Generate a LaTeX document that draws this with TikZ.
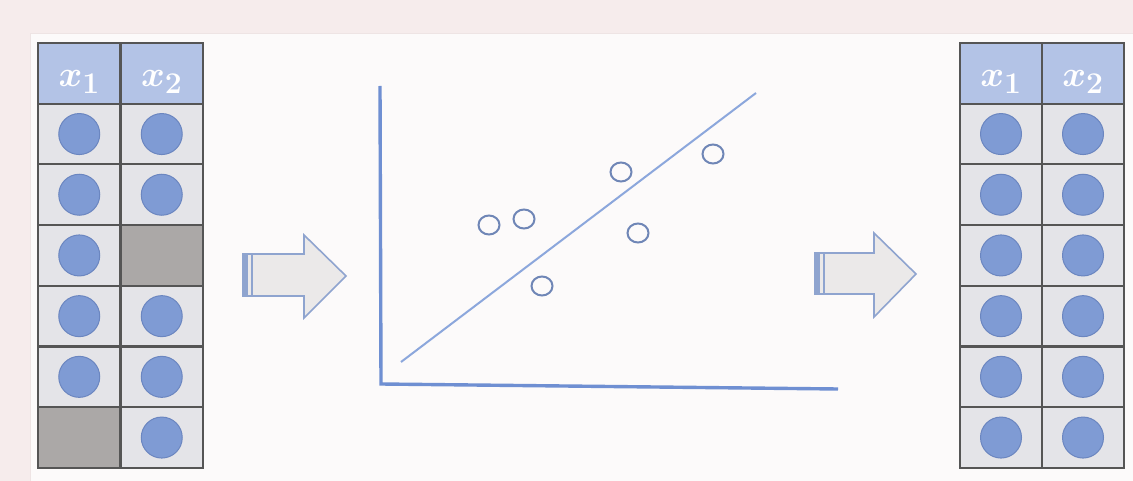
\documentclass[tikz,border=0pt]{standalone}
\usetikzlibrary{shapes.geometric}
\definecolor{bgpink}{HTML}{F6ECEC}
\definecolor{panel}{HTML}{FCFAFA}
\definecolor{panelline}{HTML}{EEE4E4}
\definecolor{hdr}{HTML}{B3C3E6}
\definecolor{cellc}{HTML}{E4E4E8}
\definecolor{miss}{HTML}{ABA8A7}
\definecolor{gridc}{HTML}{555555}
\definecolor{dotc}{HTML}{7F9BD4}
\definecolor{dotb}{HTML}{6B86C0}
\definecolor{axisc}{HTML}{6F8FD2}
\definecolor{fitc}{HTML}{8CA7DC}
\definecolor{ptc}{HTML}{6F86B6}
\definecolor{arrf}{HTML}{EBE9E9}
\definecolor{arrb}{HTML}{8FA4CF}
\newcommand{\hdrlabel}[1]{\scalebox{1.45}{\Huge\boldmath$x_{#1}$}}
\begin{document}
\begin{tikzpicture}[x=1pt,y=-1pt,
  cellbox/.style={draw=gridc,line width=2.2pt,fill=cellc,minimum width=82.5pt,minimum height=60.7pt,inner sep=0pt,outer sep=0pt},
  missbox/.style={cellbox,fill=miss},
  hdrbox/.style={cellbox,fill=hdr},
  hdrtxt/.style={text=white,anchor=base,inner sep=0pt},
  dot/.style={circle,fill=dotc,draw=dotb,line width=1pt,minimum size=41pt,inner sep=0pt},
  pt/.style={ellipse,draw=ptc,line width=2pt,minimum width=21pt,minimum height=19pt,inner sep=0pt},
  bigarrow/.style={fill=arrf,draw=arrb,line width=1.6pt,line join=miter},
  axisline/.style={draw=axisc,line width=3.4pt,line join=miter},
  fitline/.style={draw=fitc,line width=2pt}]
\useasboundingbox (0,0) rectangle (1133,481);
\fill[bgpink] (0,0) rectangle (1133,481);
\fill[panel] (30,34) rectangle (1133,481);
\draw[panelline,line width=1pt] (30,481) -- (30,34) -- (1133,34);
% left table
\foreach \c/\t in {0/1,1/2}
  \node[hdrbox] (LH\c) at ({38+82.5*\c+41.25},73.35) {};
\foreach \c/\t in {0/1,1/2}
  \node[hdrtxt] (LT\c) at ({38+82.5*\c+41.25},87) {\hdrlabel{\t}};
\foreach \r/\c in {1/0,1/1,2/0,2/1,3/0,4/0,4/1,5/0,5/1,6/1}{
  \node[cellbox] (L\r\c) at ({38+82.5*\c+41.25},{43+60.7*\r+30.35}) {};
  \node[dot] (LD\r\c) at (L\r\c) {};
}
\foreach \r/\c in {3/1,6/0}
  \node[missbox] (L\r\c) at ({38+82.5*\c+41.25},{43+60.7*\r+30.35}) {};
% right table
\foreach \c/\t in {0/1,1/2}
  \node[hdrbox,minimum width=82pt] (RH\c) at ({960+82*\c+41},73.35) {};
\foreach \c/\t in {0/1,1/2}
  \node[hdrtxt] (RT\c) at ({960+82*\c+41},87) {\hdrlabel{\t}};
\foreach \r in {1,...,6}\foreach \c in {0,1}{
  \node[cellbox,minimum width=82pt] (R\r\c) at ({960+82*\c+41},{43+60.7*\r+30.35}) {};
  \node[dot] (RD\r\c) at (R\r\c) {};
}
% arrows
\draw[bigarrow] (243,254) -- (304,254) -- (304,235) -- (346,276) -- (304,318) -- (304,296) -- (243,296) -- cycle;
\fill[arrb] (243,254) rectangle (248,296);
\draw[arrb,line width=2.4pt] (252,254) -- (252,296);
\draw[bigarrow] (815,253) -- (874,253) -- (874,233) -- (916,274) -- (874,317) -- (874,294) -- (815,294) -- cycle;
\fill[arrb] (815,253) rectangle (820,294);
\draw[arrb,line width=2.4pt] (824,253) -- (824,294);
% chart
\coordinate (ytop) at (380,86);
\coordinate (origin) at (381,384);
\coordinate (xend) at (838,389);
\draw[axisline] (ytop) -- (origin) -- (xend);
\coordinate (f1) at (401,362);
\coordinate (f2) at (756,93);
\draw[fitline] (f1) -- (f2);
\node[pt] (p1) at (489,225) {};
\node[pt] (p2) at (524,219) {};
\node[pt] (p3) at (621,172) {};
\node[pt] (p4) at (713,154) {};
\node[pt] (p5) at (638,233) {};
\node[pt] (p6) at (542,286) {};
\end{tikzpicture}
\end{document}
